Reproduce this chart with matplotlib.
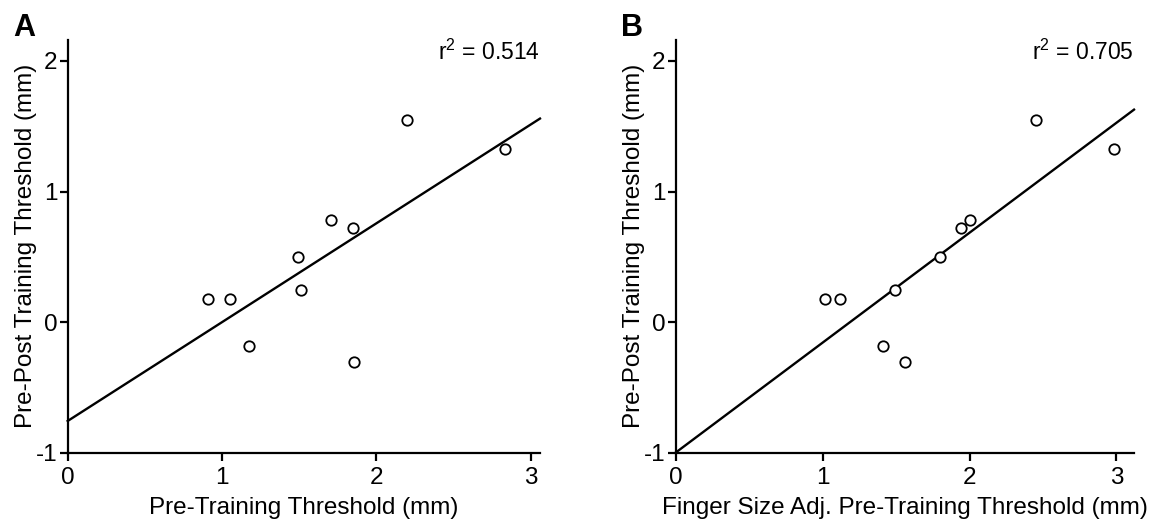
import numpy as np
import matplotlib
matplotlib.use("Agg")
import matplotlib.pyplot as plt

plt.rcParams['font.family'] = ['Liberation Sans', 'DejaVu Sans']
plt.rcParams['mathtext.fontset'] = 'custom'
plt.rcParams['mathtext.rm'] = 'Liberation Sans'
plt.rcParams['mathtext.it'] = 'Liberation Sans'
plt.rcParams['axes.unicode_minus'] = False

# y values are shared by both panels (pre-post change in threshold)
post_change = [0.179, 0.179, -0.185, 0.495, 0.244, 0.779, 0.723, -0.308, 1.544, 1.326]

# panel A: raw pre-training threshold
pre_raw = [0.912, 1.051, 1.176, 1.495, 1.512, 1.704, 1.850, 1.853, 2.196, 2.832]
# panel B: finger size adjusted pre-training threshold (same subjects, same order)
pre_adj = [1.013, 1.117, 1.412, 1.797, 1.490, 2.002, 1.941, 1.563, 2.450, 2.987]

r2_labels = ['r$^{2}$ = 0.514', 'r$^{2}$ = 0.705']
x_labels = ['Pre-Training Threshold (mm)', 'Finger Size Adj. Pre-Training Threshold (mm)']
y_label = 'Pre-Post Training Threshold (mm)'
panel_letters = ['A', 'B']
x_right = [3.06, 3.12]

fig = plt.figure(figsize=(11.65, 5.25), dpi=100)
ax_a = fig.add_axes([0.0581, 0.1377, 0.4054, 0.7861])
ax_b = fig.add_axes([0.5803, 0.1377, 0.3931, 0.7861])

fs = 17.5
for ax, xs, r2, xl, letter, xr in zip([ax_a, ax_b], [pre_raw, pre_adj], r2_labels,
                                      x_labels, panel_letters, x_right):
    x = np.array(xs)
    y = np.array(post_change)
    slope, icpt = np.polyfit(x, y, 1)
    xx = np.array([0, xr])
    ax.plot(xx, slope * xx + icpt, color='black', lw=1.7, clip_on=False)
    ax.plot(x, y, 'o', mfc='white', mec='black', mew=1.3, ms=7.5, ls='none', zorder=3)

    ax.set_xlim(0, xr)
    ax.set_ylim(-1, 2.16)
    ax.set_xticks([0, 1, 2, 3])
    ax.set_yticks([-1, 0, 1, 2])
    for s in ['top', 'right']:
        ax.spines[s].set_visible(False)
    for s in ['left', 'bottom']:
        ax.spines[s].set_linewidth(1.6)
    ax.tick_params(direction='out', length=5.5, width=1.6, labelsize=fs, pad=2)
    ax.tick_params(axis='x', pad=4.5)
    ax.set_xlabel(xl, fontsize=fs, labelpad=6)
    ax.set_ylabel(y_label, fontsize=fs, labelpad=-1)
    ax.text(1.0, 1.0, r2, transform=ax.transAxes, ha='right', va='top', fontsize=16.5)

    pos = ax.get_position()
    fig.text(pos.x0 - 0.047, 0.975, letter, fontsize=22, fontweight='bold',
             ha='left', va='top')

fig.savefig('out.png', dpi=100)
